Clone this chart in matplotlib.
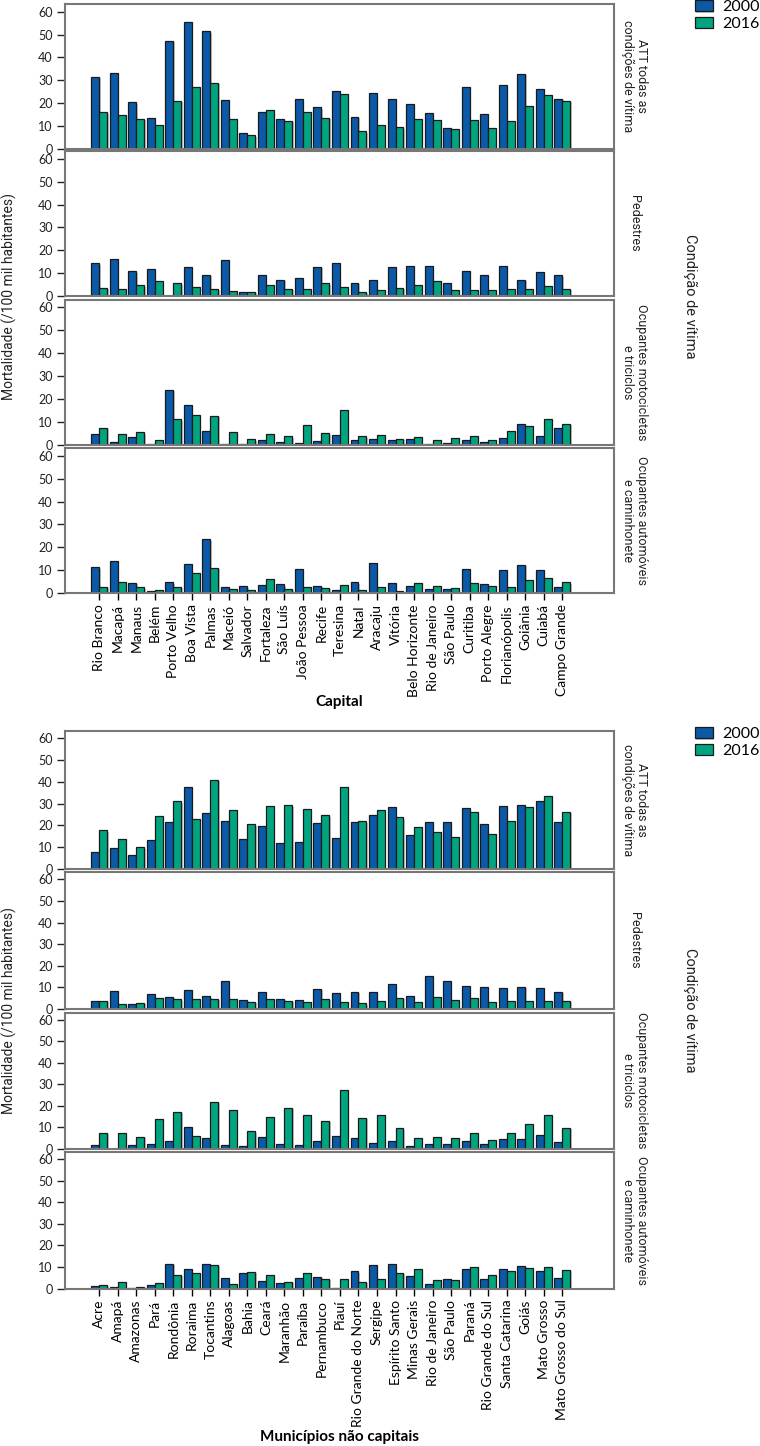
import matplotlib
matplotlib.use("Agg")
import matplotlib.pyplot as plt
import matplotlib.patheffects as pe
import numpy as np

# capitals (top block)
capitais = ["Rio Branco", "Macapá", "Manaus", "Belém", "Porto Velho", "Boa Vista",
            "Palmas", "Maceió", "Salvador", "Fortaleza", "São Luís", "João Pessoa",
            "Recife", "Teresina", "Natal", "Aracaju", "Vitória", "Belo Horizonte",
            "Rio de Janeiro", "São Paulo", "Curitiba", "Porto Alegre", "Florianópolis",
            "Goiânia", "Cuiabá", "Campo Grande"]

cap_att_2000 = [31.4, 33.0, 20.3, 13.6, 47.2, 55.6, 51.4, 21.3, 6.6, 16.2, 12.8, 21.6, 18.0,
                25.3, 13.9, 24.2, 21.8, 19.7, 15.6, 8.9, 26.9, 15.3, 28.0, 32.7, 26.3, 21.8]
cap_att_2016 = [15.8, 14.5, 13.1, 10.5, 21.0, 26.9, 28.9, 13.1, 5.8, 16.8, 12.1, 16.2, 13.6,
                24.1, 7.6, 10.5, 9.3, 13.1, 12.4, 8.5, 12.3, 8.9, 12.1, 18.7, 23.6, 20.9]
cap_ped_2000 = [14.3, 16.2, 10.8, 11.9, 0.0, 12.7, 9.4, 15.9, 1.9, 9.3, 7.1, 8.0, 12.7,
                14.3, 5.9, 7.2, 12.7, 13.0, 13.3, 5.9, 10.8, 9.0, 13.0, 7.2, 10.3, 9.1]
cap_ped_2016 = [3.5, 3.1, 4.7, 6.5, 5.5, 4.1, 3.1, 2.2, 1.8, 4.6, 3.1, 3.2, 5.5,
                4.0, 1.9, 2.8, 3.5, 4.6, 6.6, 2.5, 2.8, 2.5, 3.2, 3.2, 4.3, 3.2]
cap_moto_2000 = [4.7, 1.0, 3.4, 0.3, 24.0, 17.3, 6.1, 0.4, 0.4, 2.2, 1.0, 0.6, 1.6,
                 4.2, 2.2, 2.6, 1.9, 2.6, 0.4, 0.6, 2.2, 1.0, 2.9, 8.9, 3.8, 7.3]
cap_moto_2016 = [7.3, 4.5, 5.4, 2.2, 11.1, 12.9, 12.6, 5.4, 2.3, 4.5, 3.7, 8.6, 5.0,
                 15.1, 3.7, 4.4, 2.6, 3.2, 2.2, 2.9, 4.0, 2.2, 5.9, 8.3, 11.1, 9.2]
cap_auto_2000 = [11.2, 13.9, 4.4, 0.9, 4.7, 12.6, 23.5, 2.6, 2.9, 3.6, 3.8, 10.5, 3.1,
                 1.2, 4.7, 13.1, 4.2, 3.1, 1.6, 1.6, 10.7, 3.9, 10.1, 12.4, 9.9, 2.5]
cap_auto_2016 = [2.6, 5.0, 2.5, 1.3, 2.6, 8.6, 10.9, 1.9, 1.2, 6.0, 1.8, 2.8, 2.2,
                 3.4, 1.2, 2.5, 0.7, 4.2, 2.9, 2.0, 4.2, 3.1, 2.5, 5.8, 6.6, 4.7]

# non-capital municipalities (bottom block)
estados = ["Acre", "Amapá", "Amazonas", "Pará", "Rondônia", "Roraima", "Tocantins",
           "Alagoas", "Bahia", "Ceará", "Maranhão", "Paraíba", "Pernambuco", "Piauí",
           "Rio Grande do Norte", "Sergipe", "Espírito Santo", "Minas Gerais",
           "Rio de Janeiro", "São Paulo", "Paraná", "Rio Grande do Sul",
           "Santa Catarina", "Goiás", "Mato Grosso", "Mato Grosso do Sul"]

int_att_2000 = [8.0, 9.7, 6.6, 13.1, 21.8, 37.8, 25.7, 22.2, 13.8, 19.7, 11.8, 12.6, 21.1,
                14.2, 21.7, 24.6, 28.3, 15.4, 21.4, 21.4, 28.0, 20.5, 28.9, 29.2, 31.1, 21.8]
int_att_2016 = [17.7, 14.0, 10.0, 24.2, 31.1, 23.1, 40.9, 27.2, 20.5, 28.9, 29.2, 27.7, 24.6,
                37.7, 22.0, 27.2, 23.7, 19.5, 17.1, 14.6, 26.0, 16.3, 22.0, 28.3, 33.7, 26.3]
int_ped_2000 = [3.6, 8.5, 2.5, 7.1, 5.6, 8.8, 5.9, 12.8, 4.3, 8.0, 4.8, 4.3, 9.4,
                7.3, 7.9, 7.9, 11.7, 5.9, 15.3, 13.1, 10.7, 10.4, 9.9, 10.4, 9.9, 8.0]
int_ped_2016 = [3.9, 2.5, 2.9, 5.3, 4.5, 4.8, 4.8, 4.8, 3.2, 4.8, 3.9, 3.2, 4.8,
                3.2, 2.6, 3.7, 5.3, 3.4, 5.6, 4.2, 5.3, 3.4, 3.6, 3.9, 3.9, 3.7]
int_moto_2000 = [1.7, 0.0, 1.7, 2.0, 3.3, 9.8, 5.0, 1.7, 1.3, 5.3, 2.2, 1.6, 3.3,
                 5.8, 5.0, 2.7, 3.3, 1.3, 1.9, 2.2, 3.6, 2.2, 4.5, 4.5, 6.4, 3.0]
int_moto_2016 = [7.2, 7.2, 5.5, 13.9, 17.2, 5.9, 21.9, 18.0, 8.1, 14.8, 19.1, 15.8, 13.0,
                 27.5, 14.4, 15.5, 9.4, 5.0, 5.5, 5.0, 7.3, 3.9, 7.3, 11.6, 15.8, 9.7]
int_auto_2000 = [1.3, 0.8, 0.3, 1.7, 11.6, 9.2, 11.6, 5.0, 7.2, 3.3, 2.7, 5.0, 5.3,
                 0.3, 8.0, 11.1, 11.6, 5.9, 2.2, 4.2, 8.9, 4.5, 9.2, 10.6, 8.1, 4.8]
int_auto_2016 = [1.7, 3.1, 0.6, 2.5, 6.3, 7.2, 11.1, 2.3, 7.7, 6.4, 3.1, 7.2, 4.5,
                 4.2, 3.1, 4.5, 7.3, 8.9, 4.1, 3.8, 10.2, 6.4, 8.3, 9.5, 9.8, 8.6]

condicoes = ["ATT todas as\ncondições de vítima", "Pedestres",
             "Ocupantes motocicletas\ne triciclos", "Ocupantes automóveis\ne caminhonete"]
anos = ["2000", "2016"]
cores = ["#0a5aa8", "#00a47f"]

W, H = 760, 1446
fig = plt.figure(figsize=(W / 100, H / 100), dpi=100)
plt.rcParams['font.family'] = ['Lato', 'DejaVu Sans']
side = ['Roboto', 'DejaVu Sans']

L, R = 65, 614
blocos = [
    (capitais, [(cap_att_2000, cap_att_2016), (cap_ped_2000, cap_ped_2016),
                (cap_moto_2000, cap_moto_2016), (cap_auto_2000, cap_auto_2016)],
     [(4, 148.5), (151, 296), (299.5, 444.7), (448, 593)], "Capital", 702, 296),
    (estados, [(int_att_2000, int_att_2016), (int_ped_2000, int_ped_2016),
               (int_moto_2000, int_moto_2016), (int_auto_2000, int_auto_2016)],
     [(731, 869), (872, 1009), (1012.5, 1148.5), (1152, 1288.5)],
     "Municípios não capitais", 1437, 1010),
]

sombra = [pe.SimplePatchShadow(offset=(1, -1), shadow_rgbFace='#888888', alpha=0.5), pe.Normal()]
w = 0.43

for cats, series, boxes, xtitle, ytitle_px, mid_px in blocos:
    x = np.arange(len(cats))
    handles = []
    for k, ((v0, v1), (top, bot)) in enumerate(zip(series, boxes)):
        ax = fig.add_axes([L / W, 1 - bot / H, (R - L) / W, (bot - top) / H])
        b0 = ax.bar(x - w / 2, v0, w, color=cores[0], edgecolor='#1a1a1a', linewidth=0.9,
                    label=anos[0], path_effects=sombra)
        b1 = ax.bar(x + w / 2, v1, w, color=cores[1], edgecolor='#1a1a1a', linewidth=0.9,
                    label=anos[1], path_effects=sombra)
        handles = [b0, b1]
        ax.set_xlim(-1.85, 27.8)
        ax.set_ylim(0, 63.4)
        ax.set_yticks(range(0, 61, 10))
        ax.tick_params(axis='y', length=6, width=1, pad=3, labelsize=9, colors='#222222')
        for s in ax.spines.values():
            s.set_color('#777777')
            s.set_linewidth(1.5)
        ax.text(1.037, 0.5, condicoes[k], transform=ax.transAxes, rotation=270,
                ha='center', va='center', multialignment='center',
                fontsize=9, family=side, color='#222222', linespacing=1.15)
        if k == 3:
            ax.set_xticks(x)
            ax.set_xticklabels(cats, rotation=90, fontsize=10)
            ax.tick_params(axis='x', length=5, width=1, pad=3)
        else:
            ax.set_xticks([])
    fig.text(339.5 / W, 1 - ytitle_px / H, xtitle, ha='center', va='center',
             fontsize=11, fontweight='bold')
    fig.text(9 / W, 1 - mid_px / H, "Mortalidade (/100 mil habitantes)", rotation=90,
             ha='center', va='center', fontsize=10, family=side, color='#222222')
    fig.text(690 / W, 1 - mid_px / H, "Condição de vítima", rotation=270,
             ha='center', va='center', fontsize=10.5, family=side, color='#222222')
    fig.legend(handles, anos, loc='upper left',
               bbox_to_anchor=(695 / W, 1 - (boxes[0][0] - 4) / H),
               frameon=False, fontsize=11.5, borderpad=0, borderaxespad=0,
               handlelength=1.1, handleheight=0.7, handletextpad=0.6, labelspacing=0.15)

fig.savefig("out.png", dpi=100)
